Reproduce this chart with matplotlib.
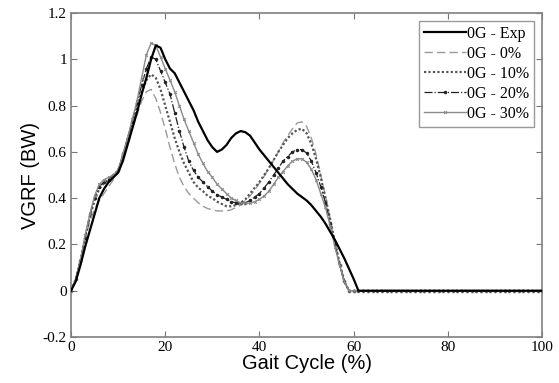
import numpy as np
import matplotlib
matplotlib.use("Agg")
import matplotlib.pyplot as plt

# gait cycle (%) at 1% steps; values read for 0..61, flat zero afterwards
gait_head = np.arange(0, 62)
gait_tail = np.arange(62, 101)
gait = np.concatenate([gait_head, gait_tail])

exp_vals = [0.0, 0.04, 0.11, 0.19, 0.26, 0.33, 0.40, 0.44, 0.47, 0.49,
            0.51, 0.56, 0.63, 0.70, 0.77, 0.85, 0.92, 1.00, 1.06, 1.05,
            1.00, 0.96, 0.94, 0.90, 0.86, 0.82, 0.78, 0.73, 0.69, 0.65,
            0.62, 0.60, 0.61, 0.63, 0.66, 0.68, 0.69, 0.685, 0.67, 0.64,
            0.61, 0.585, 0.56, 0.535, 0.51, 0.485, 0.46, 0.44, 0.42, 0.405,
            0.39, 0.37, 0.345, 0.32, 0.29, 0.255, 0.22, 0.18, 0.14, 0.095,
            0.05, 0.0]
g0_vals = [0.0, 0.05, 0.13, 0.22, 0.30, 0.35, 0.39, 0.42, 0.45, 0.48,
           0.52, 0.58, 0.64, 0.70, 0.76, 0.82, 0.86, 0.87, 0.83, 0.77,
           0.70, 0.62, 0.55, 0.49, 0.45, 0.42, 0.40, 0.38, 0.365, 0.355,
           0.35, 0.345, 0.345, 0.345, 0.35, 0.36, 0.37, 0.39, 0.41, 0.435,
           0.465, 0.495, 0.53, 0.565, 0.60, 0.64, 0.67, 0.70, 0.725, 0.73,
           0.71, 0.66, 0.59, 0.50, 0.41, 0.31, 0.21, 0.12, 0.04, 0.0,
           0.0, 0.0]
g10_vals = [0.0, 0.05, 0.13, 0.23, 0.32, 0.39, 0.44, 0.465, 0.48, 0.50,
            0.52, 0.58, 0.65, 0.72, 0.79, 0.86, 0.91, 0.935, 0.92, 0.87,
            0.80, 0.73, 0.66, 0.60, 0.55, 0.51, 0.47, 0.445, 0.43, 0.41,
            0.40, 0.385, 0.375, 0.365, 0.365, 0.37, 0.38, 0.395, 0.42, 0.445,
            0.47, 0.50, 0.53, 0.565, 0.60, 0.63, 0.66, 0.68, 0.695, 0.70,
            0.68, 0.635, 0.57, 0.49, 0.40, 0.31, 0.21, 0.12, 0.04, 0.0,
            0.0, 0.0]
g20_vals = [0.0, 0.05, 0.13, 0.23, 0.33, 0.40, 0.45, 0.47, 0.48, 0.50,
            0.52, 0.59, 0.66, 0.73, 0.81, 0.89, 0.96, 1.01, 1.00, 0.95,
            0.90, 0.85, 0.77, 0.69, 0.62, 0.56, 0.52, 0.49, 0.47, 0.45,
            0.43, 0.415, 0.405, 0.395, 0.385, 0.38, 0.378, 0.38, 0.39, 0.405,
            0.42, 0.445, 0.47, 0.50, 0.53, 0.56, 0.58, 0.60, 0.61, 0.61,
            0.595, 0.56, 0.51, 0.45, 0.38, 0.29, 0.20, 0.11, 0.04, 0.0,
            0.0, 0.0]
g30_vals = [0.0, 0.05, 0.13, 0.24, 0.33, 0.41, 0.46, 0.48, 0.49, 0.50,
            0.52, 0.59, 0.66, 0.74, 0.82, 0.92, 1.02, 1.07, 1.06, 1.01,
            0.96, 0.91, 0.86, 0.80, 0.74, 0.69, 0.64, 0.59, 0.55, 0.515,
            0.49, 0.46, 0.44, 0.42, 0.40, 0.39, 0.38, 0.378, 0.378, 0.385,
            0.395, 0.41, 0.43, 0.46, 0.49, 0.515, 0.54, 0.56, 0.57, 0.57,
            0.555, 0.525, 0.48, 0.42, 0.36, 0.28, 0.19, 0.11, 0.04, 0.0,
            0.0, 0.0]
tail = [0.0] * len(gait_tail)

series_labels = ["0G - Exp", "0G - 0%", "0G - 10%", "0G - 20%", "0G - 30%"]

fig = plt.figure(figsize=(5.59, 3.83), dpi=100)
ax = fig.add_axes([0.127, 0.120, 0.843, 0.846])

ax.plot(gait, exp_vals + tail, color="black", lw=1.6, label=series_labels[0], zorder=6)
ax.plot(gait, g0_vals + tail, color="#9a9a9a", lw=1.0, ls=(0, (6, 3)), label=series_labels[1])
ax.plot(gait, g10_vals + tail, color="#555555", lw=1.6, ls=(0, (1, 1)), label=series_labels[2])
ax.plot(gait, g20_vals + tail, color="#222222", lw=0.9, ls="-.", marker=".", ms=3,
        label=series_labels[3])
ax.plot(gait, g30_vals + tail, color="#8a8a8a", lw=1.0, marker="x", ms=2, mew=0.7,
        label=series_labels[4])

ax.set_xlim(0, 100)
ax.set_ylim(-0.2, 1.2)
ax.set_xticks([0, 20, 40, 60, 80, 100])
ax.set_yticks([-0.2, 0, 0.2, 0.4, 0.6, 0.8, 1, 1.2])
ax.set_yticklabels(["-0.2", "0", "0.2", "0.4", "0.6", "0.8", "1", "1.2"])
ax.tick_params(direction="in", top=True, right=True, length=4, color="#777777",
               labelsize=11, pad=3)
for lab in ax.get_xticklabels() + ax.get_yticklabels():
    lab.set_family("Liberation Serif")
for sp in ax.spines.values():
    sp.set_color("#808080")
    sp.set_linewidth(1.2)

ax.set_xlabel("Gait Cycle (%)", fontsize=14.5, family="Liberation Sans", labelpad=0)
ax.set_ylabel("VGRF (BW)", fontsize=14.5, family="Liberation Sans", labelpad=2)

leg = ax.legend(loc="upper right", prop={"family": "Liberation Serif", "size": 11.5},
                fancybox=False, handlelength=2.6, handletextpad=0.1,
                borderpad=0.3, labelspacing=0.25, borderaxespad=0.5)
leg.get_frame().set_edgecolor("#808080")
leg.get_frame().set_linewidth(1.0)

fig.savefig("out.png", dpi=100)
